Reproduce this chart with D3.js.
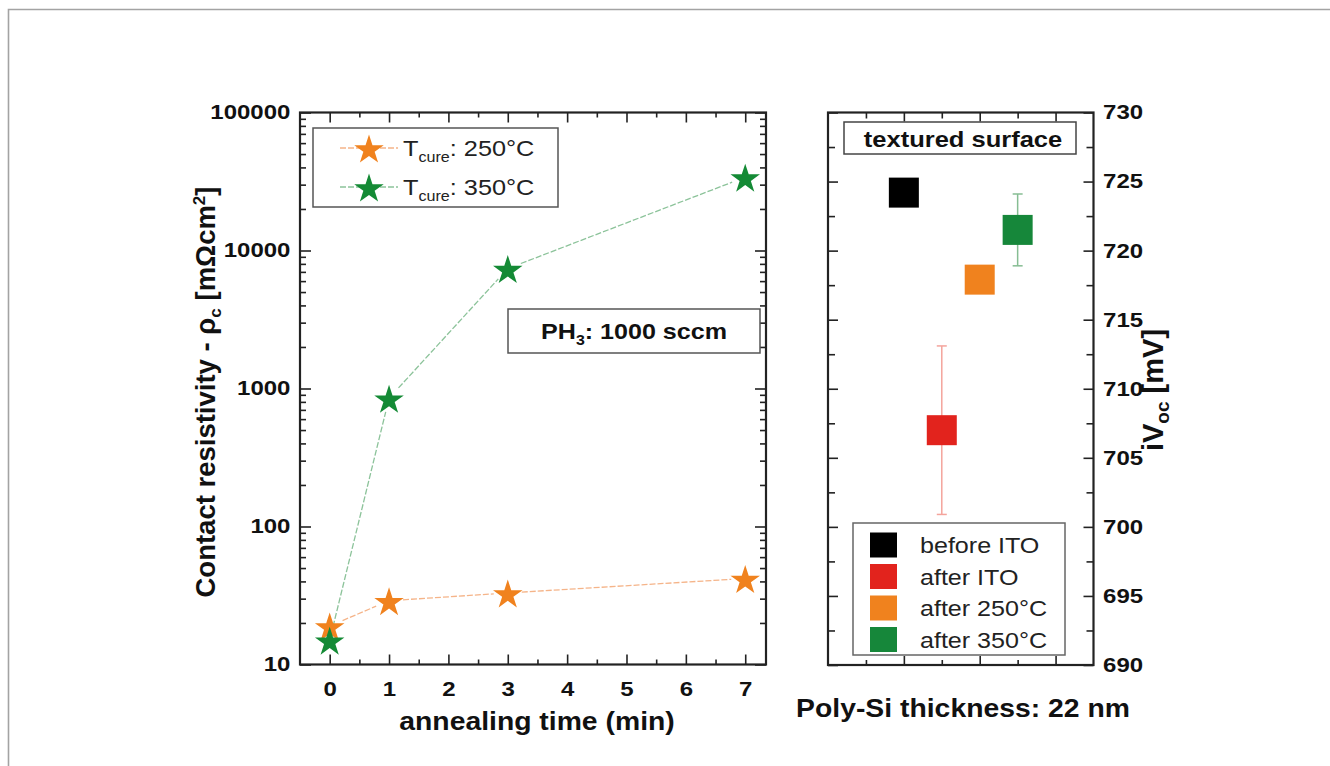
<!DOCTYPE html>
<html>
<head>
<meta charset="utf-8">
<script src="https://cdn.jsdelivr.net/npm/d3@7"></script>
<style>
  body { margin: 0; background: #fff; }
  svg { display: block; font-family: "Liberation Sans", Arial, sans-serif; }
  .tick text { font-weight: bold; font-size: 20px; fill: #111; }
  .tick line { stroke: #222; stroke-width: 1.6; }
  .frame { fill: none; stroke: #222; stroke-width: 2.2; }
</style>
</head>
<body>
<svg width="1330" height="766"></svg>
<script>
// left panel: contact resistivity vs annealing time
var times = [0, 1, 3, 7];
var rho250 = [19, 29, 33, 42];
var rho350 = [15, 850, 7400, 34000];
var cureLabels = ["250°C", "350°C"];
var rhoTicks = [10, 100, 1000, 10000, 100000];
var timeTicks = [0, 1, 2, 3, 4, 5, 6, 7];

// right panel: iVoc per process step
var steps = ["before ITO", "after ITO", "after 250°C", "after 350°C"];
var stepPos = [1, 1.5, 2, 2.5];
var ivoc = [724.2, 707.0, 717.9, 721.5];
var ivocErr = [0, 6.1, 0, 2.6];
var ivocTicks = [690, 695, 700, 705, 710, 715, 720, 725, 730];

var starColors = ["#f0821e", "#148a35"],
    lineColors = ["#f5b489", "#8cc39a"],
    stepColors = ["#000000", "#e2231d", "#f0821e", "#16873a"],
    errColors = ["#888888", "#f4a49c", "#f6b98c", "#86bd93"];

var svg = d3.select("svg");

// outer picture border (top and left only)
svg.append("path")
    .attr("d", "M8.5,766 L8.5,9.5 L1330,9.5")
    .attr("fill", "none")
    .attr("stroke", "#a3a3a3")
    .attr("stroke-width", 1.6);

function translate(x, y) { return "translate(" + x + "," + y + ")"; }

// the original lettering is a bit wider than Liberation Sans
function label(g, x, y, k, size, bold) {
    return g.append("text")
        .attr("transform", translate(x, y) + " scale(" + k + ",1)")
        .attr("font-size", size)
        .attr("font-weight", bold ? "bold" : "normal")
        .attr("fill", bold ? "#111" : "#222");
}

function ticks(g, axis, pos) {
    var a = g.append("g").attr("transform", translate(pos[0], pos[1])).call(axis);
    a.select(".domain").remove();
    a.selectAll("text").attr("transform", "scale(1.2,1)");
    return a;
}

// ---------- left panel ----------
var L = {left: 300, right: 766, top: 112.5, bottom: 664.5};
var xL = d3.scaleLinear().domain([-0.5, 7.35]).range([L.left, L.right]);
var yL = d3.scaleLog().domain([10, 100000]).range([L.bottom, L.top]);

var rhoMinor = [];
rhoTicks.slice(0, -1).forEach(function(d) {
    for (var k = 2; k < 10; k++) rhoMinor.push(d * k);
});
var timeMinor = timeTicks.slice(0, -1).map(function(d) { return d + 0.5; });

var gl = svg.append("g");

ticks(gl, d3.axisBottom(xL).tickValues(timeTicks).tickSize(-10).tickPadding(17).tickFormat(d3.format("d")), [0, L.bottom]);
ticks(gl, d3.axisBottom(xL).tickValues(timeMinor).tickSize(-5).tickFormat(""), [0, L.bottom]);
ticks(gl, d3.axisTop(xL).tickValues(timeTicks).tickSize(-10).tickFormat(""), [0, L.top]);
ticks(gl, d3.axisTop(xL).tickValues(timeMinor).tickSize(-5).tickFormat(""), [0, L.top]);
ticks(gl, d3.axisLeft(yL).tickValues(rhoTicks).tickSize(-11).tickPadding(8).tickFormat(d3.format("d")), [L.left, 0]);
ticks(gl, d3.axisLeft(yL).tickValues(rhoMinor).tickSize(-6).tickFormat(""), [L.left, 0]);
ticks(gl, d3.axisRight(yL).tickValues(rhoTicks).tickSize(-11).tickFormat(""), [L.right, 0]);
ticks(gl, d3.axisRight(yL).tickValues(rhoMinor).tickSize(-6).tickFormat(""), [L.right, 0]);

gl.append("rect").attr("class", "frame")
    .attr("x", L.left).attr("y", L.top)
    .attr("width", L.right - L.left).attr("height", L.bottom - L.top);

// connecting lines with a small gap at each marker
function gapSegments(xs, ys, gap) {
    var segs = [];
    for (var i = 0; i < xs.length - 1; i++) {
        var x0 = xL(xs[i]), y0 = yL(ys[i]), x1 = xL(xs[i + 1]), y1 = yL(ys[i + 1]);
        var dx = x1 - x0, dy = y1 - y0, len = Math.sqrt(dx * dx + dy * dy);
        if (len <= 2 * gap) continue;
        var ux = dx / len, uy = dy / len;
        segs.push([[x0 + ux * gap, y0 + uy * gap], [x1 - ux * gap, y1 - uy * gap]]);
    }
    return segs;
}

var series = [rho250, rho350];
var star = d3.symbol().type(d3.symbolStar).size(270);

series.forEach(function(s, i) {
    gl.selectAll(null)
        .data(gapSegments(times, s, 14))
      .enter().append("path")
        .attr("d", d3.line())
        .attr("fill", "none")
        .attr("stroke", lineColors[i])
        .attr("stroke-width", 1.3)
        .attr("stroke-dasharray", "6,2");
});

// green last at t=0 sits on top of orange
series.forEach(function(s, i) {
    gl.selectAll(null)
        .data(times)
      .enter().append("path")
        .attr("d", star)
        .attr("transform", function(d, j) { return translate(xL(d), yL(s[j]) + 2); })
        .attr("fill", starColors[i]);
});

// legend
var lg = gl.append("g");
lg.append("rect")
    .attr("x", 313).attr("y", 128).attr("width", 245).attr("height", 79)
    .attr("fill", "#fff").attr("stroke", "#555").attr("stroke-width", 1.5);
cureLabels.forEach(function(c, i) {
    var cy = 148 + i * 39;
    lg.append("line")
        .attr("x1", 340).attr("x2", 398).attr("y1", cy).attr("y2", cy)
        .attr("stroke", lineColors[i]).attr("stroke-width", 1.3)
        .attr("stroke-dasharray", "6,2");
    lg.append("path").attr("d", star)
        .attr("transform", translate(369, cy + 2))
        .attr("fill", starColors[i]);
    var t = label(lg, 403, cy + 8, 1.15, 22, false);
    t.append("tspan").text("T");
    t.append("tspan").attr("font-size", 14).attr("dy", 6).text("cure");
    t.append("tspan").attr("dy", -6).text(": " + c);
});

// PH3 box
gl.append("rect")
    .attr("x", 508).attr("y", 309).attr("width", 252).attr("height", 44)
    .attr("fill", "#fff").attr("stroke", "#555").attr("stroke-width", 1.5);
var ph = label(gl, 634, 339, 1.14, 22, true).attr("text-anchor", "middle");
ph.append("tspan").text("PH");
ph.append("tspan").attr("font-size", 14).attr("dy", 6).text("3");
ph.append("tspan").attr("dy", -6).text(": 1000 sccm");

// axis titles
label(gl, 537, 730, 1.09, 26, true)
    .attr("text-anchor", "middle")
    .text("annealing time (min)");

var yt = gl.append("text")
    .attr("transform", translate(215, 392) + " rotate(-90)")
    .attr("text-anchor", "middle")
    .attr("font-size", 27.5).attr("font-weight", "bold").attr("fill", "#111");
yt.append("tspan").text("Contact resistivity - ρ");
yt.append("tspan").attr("font-size", 17).attr("dy", 6).text("c");
yt.append("tspan").attr("dy", -6).text(" [mΩcm");
yt.append("tspan").attr("font-size", 17).attr("dy", -10).text("2");
yt.append("tspan").attr("dy", 10).text("]");

// ---------- right panel ----------
var R = {left: 828, right: 1093.5, top: 112.5, bottom: 665};
var xR = d3.scaleLinear().domain([0, 3.5]).range([R.left, R.right]);
var yR = d3.scaleLinear().domain([690, 730]).range([R.bottom, R.top]);

var ivocMinor = ivocTicks.slice(0, -1).map(function(d) { return d + 2.5; });
var posMajor = [1, 2, 3], posMinor = [0.5, 1.5, 2.5];

var gr = svg.append("g");

ticks(gr, d3.axisBottom(xR).tickValues(posMajor).tickSize(-9).tickFormat(""), [0, R.bottom]);
ticks(gr, d3.axisBottom(xR).tickValues(posMinor).tickSize(-5).tickFormat(""), [0, R.bottom]);
ticks(gr, d3.axisTop(xR).tickValues(posMajor).tickSize(-9).tickFormat(""), [0, R.top]);
ticks(gr, d3.axisTop(xR).tickValues(posMinor).tickSize(-6).tickFormat(""), [0, R.top]);
ticks(gr, d3.axisLeft(yR).tickValues(ivocTicks).tickSize(-10).tickFormat(""), [R.left, 0]);
ticks(gr, d3.axisLeft(yR).tickValues(ivocMinor).tickSize(-7).tickFormat(""), [R.left, 0]);
ticks(gr, d3.axisRight(yR).tickValues(ivocTicks).tickSize(-10).tickPadding(8).tickFormat(d3.format("d")), [R.right, 0]);
ticks(gr, d3.axisRight(yR).tickValues(ivocMinor).tickSize(-7).tickFormat(""), [R.right, 0]);

gr.append("rect").attr("class", "frame")
    .attr("x", R.left).attr("y", R.top)
    .attr("width", R.right - R.left).attr("height", R.bottom - R.top);

// error bars
var errs = gr.selectAll(".err")
    .data(steps)
  .enter().append("g")
    .attr("class", "err")
    .attr("stroke", function(d, i) { return errColors[i]; })
    .attr("stroke-width", 1.5);
errs.append("line")
    .attr("x1", function(d, i) { return xR(stepPos[i]); })
    .attr("x2", function(d, i) { return xR(stepPos[i]); })
    .attr("y1", function(d, i) { return yR(ivoc[i] - ivocErr[i]); })
    .attr("y2", function(d, i) { return yR(ivoc[i] + ivocErr[i]); });
[-1, 1].forEach(function(sgn) {
    errs.append("line")
        .attr("x1", function(d, i) { return xR(stepPos[i]) - 5; })
        .attr("x2", function(d, i) { return xR(stepPos[i]) + 5; })
        .attr("y1", function(d, i) { return yR(ivoc[i] + sgn * ivocErr[i]); })
        .attr("y2", function(d, i) { return yR(ivoc[i] + sgn * ivocErr[i]); });
});

var sq = 30;
gr.selectAll(".pt")
    .data(steps)
  .enter().append("rect")
    .attr("class", "pt")
    .attr("x", function(d, i) { return xR(stepPos[i]) - sq / 2; })
    .attr("y", function(d, i) { return yR(ivoc[i]) - sq / 2; })
    .attr("width", sq).attr("height", sq)
    .attr("fill", function(d, i) { return stepColors[i]; });

// textured surface label
gr.append("rect")
    .attr("x", 844).attr("y", 122).attr("width", 232).attr("height", 32)
    .attr("fill", "#fff").attr("stroke", "#444").attr("stroke-width", 1.5);
label(gr, 963, 147, 1.16, 22, true)
    .attr("text-anchor", "middle")
    .text("textured surface");

// step legend
var sl = gr.append("g");
sl.append("rect")
    .attr("x", 853).attr("y", 523).attr("width", 212).attr("height", 132)
    .attr("fill", "#fff").attr("stroke", "#666").attr("stroke-width", 1.5);
steps.forEach(function(s, i) {
    var cy = 545 + i * 31.5;
    sl.append("rect")
        .attr("x", 870).attr("y", cy - 12.5).attr("width", 27).attr("height", 25)
        .attr("fill", stepColors[i]);
    label(sl, 920, cy + 8, 1.14, 22, false).text(s);
});

var vt = gr.append("text")
    .attr("transform", translate(1163, 390) + " rotate(-90)")
    .attr("text-anchor", "middle")
    .attr("font-size", 29).attr("font-weight", "bold").attr("fill", "#111");
vt.append("tspan").text("iV");
vt.append("tspan").attr("font-size", 19).attr("dy", 6).text("oc");
vt.append("tspan").attr("dy", -6).text(" [mV]");

label(gr, 963, 717, 1.09, 26, true)
    .attr("text-anchor", "middle")
    .text("Poly-Si thickness: 22 nm");
</script>
</body>
</html>
